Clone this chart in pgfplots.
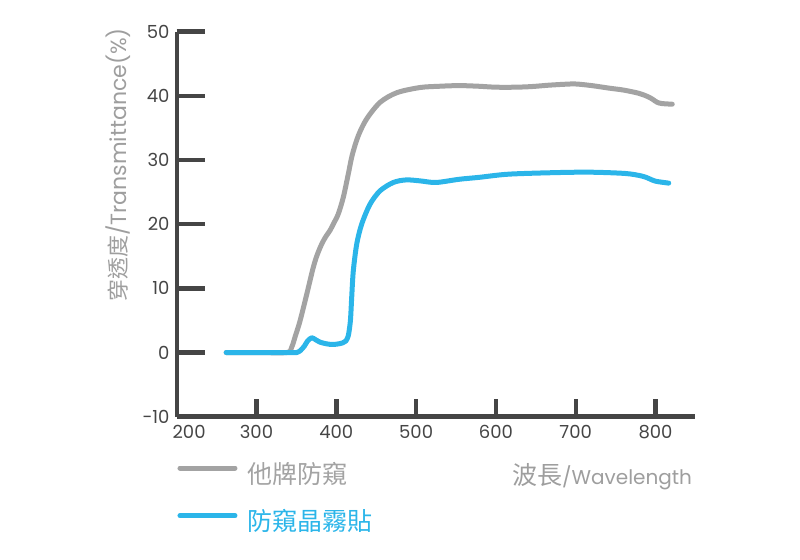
\documentclass[border=0pt]{standalone}
\usepackage{fontspec}
\setmainfont{Poppins}
\newfontfamily\cjk{Noto Sans CJK TC}
\usepackage{pgfplots}
\pgfplotsset{compat=1.18}
\definecolor{axisgray}{HTML}{454545}
\definecolor{curvegray}{HTML}{A3A3A3}
\definecolor{curveblue}{HTML}{2BB5E9}
\definecolor{labelgray}{HTML}{9E9E9E}
\begin{document}
\begin{tikzpicture}
\path[use as bounding box] (0,0) rectangle (400pt,280pt);
\begin{axis}[
  at={(88.35pt,71.65pt)}, anchor=south west,
  x=0.399pt, y=3.2083pt,
  xmin=200, xmax=850, ymin=-10, ymax=50,
  axis lines=left,
  axis line style={-, line width=2.2pt, draw=axisgray},
  tick align=inside,
  xtick={300,400,...,800},
  ytick={-10,0,...,50},
  extra x ticks={200},
  extra x tick style={xticklabel style={xshift=6.2pt}},
  major tick length=14pt,
  xtick style={/pgfplots/major tick length=9pt},
  tick style={line width=2.2pt, draw=axisgray},
  /pgf/number format/assume math mode=true,
  ticklabel style={font=\fontsize{9}{10}\selectfont, text=axisgray, inner sep=0pt},
  yticklabel style={xshift=-3.4pt},
  xticklabel style={yshift=-4.2pt},
  xlabel={{\fontsize{12.5}{14}\cjk 波長}{\fontsize{10}{12}\selectfont/Wavelength}},
  xlabel style={at={(axis description cs:0.9942,-0.1774)}, anchor=base east, inner sep=0pt, text=labelgray},
  ylabel={{\fontsize{11}{13}\cjk 穿透度}{\fontsize{11}{13}\selectfont/Transmittance(\%)}},
  ylabel style={at={(axis description cs:-0.1132,0.654)}, anchor=center, inner sep=0pt, text=labelgray},
  legend style={at={(axis description cs:0.0015,-0.1255)}, anchor=north west, draw=none, fill=none,
    inner sep=0pt, outer sep=0pt, row sep=11.85pt, column sep=5pt,
    nodes={inner sep=0pt, text height=9pt, text depth=3pt, font=\fontsize{12.5}{14}\cjk}},
  legend cell align=left,
  legend image code/.code={\draw[#1, line cap=round] (0pt,4.5pt) -- (27.5pt,4.5pt);},
]
\addplot[curvegray, line width=2.5pt, smooth, tension=0.5, line cap=round, line join=round] coordinates {
(262,0)(300,0)(338,0)(344,0.8)(349,2.7)(354.5,4.9)(363,9.1)(371,13.2)(376,15.2)(381.7,16.9)(387,18.1)(392,19)(397,20.2)(402.5,21.6)(408.8,24.2)(415,27.8)(420,30.8)(427.6,33.8)(438,36.4)(455,39)(476,40.5)(505,41.3)(530,41.5)(554,41.6)(578,41.5)(600,41.35)(625,41.35)(645,41.45)(665,41.65)(685,41.8)(700,41.85)(720,41.6)(742,41.2)(760,40.9)(779,40.4)(790,39.9)(796,39.5)(802,39.0)(808,38.8)(821,38.7)
};
\addlegendentry{\textcolor{curvegray}{他牌防窺}}
\addplot[curveblue, line width=2.5pt, smooth, tension=0.5, line cap=round, line join=round] coordinates {
(262,0)(300,0)(345,0)(350.4,0)(355,0.3)(360,1.0)(364,1.8)(369.2,2.3)(374,2.0)(380,1.6)(388,1.35)(395,1.25)(400.5,1.3)(408,1.5)(412,1.8)(415,2.6)(417,4.2)(418,5.5)(419.3,8.6)(421.3,12.7)(425.6,16.9)(431.8,20)(442.2,23.1)(454.8,25.2)(471.4,26.5)(487.5,26.9)(505,26.75)(525,26.5)(554,27.0)(579,27.3)(616.6,27.8)(679,28.05)(720,28.1)(762.5,27.9)(783,27.5)(792,27.1)(800,26.7)(816.6,26.4)
};
\addlegendentry{\textcolor{curveblue}{防窺晶霧貼}}
\end{axis}
\end{tikzpicture}
\end{document}
